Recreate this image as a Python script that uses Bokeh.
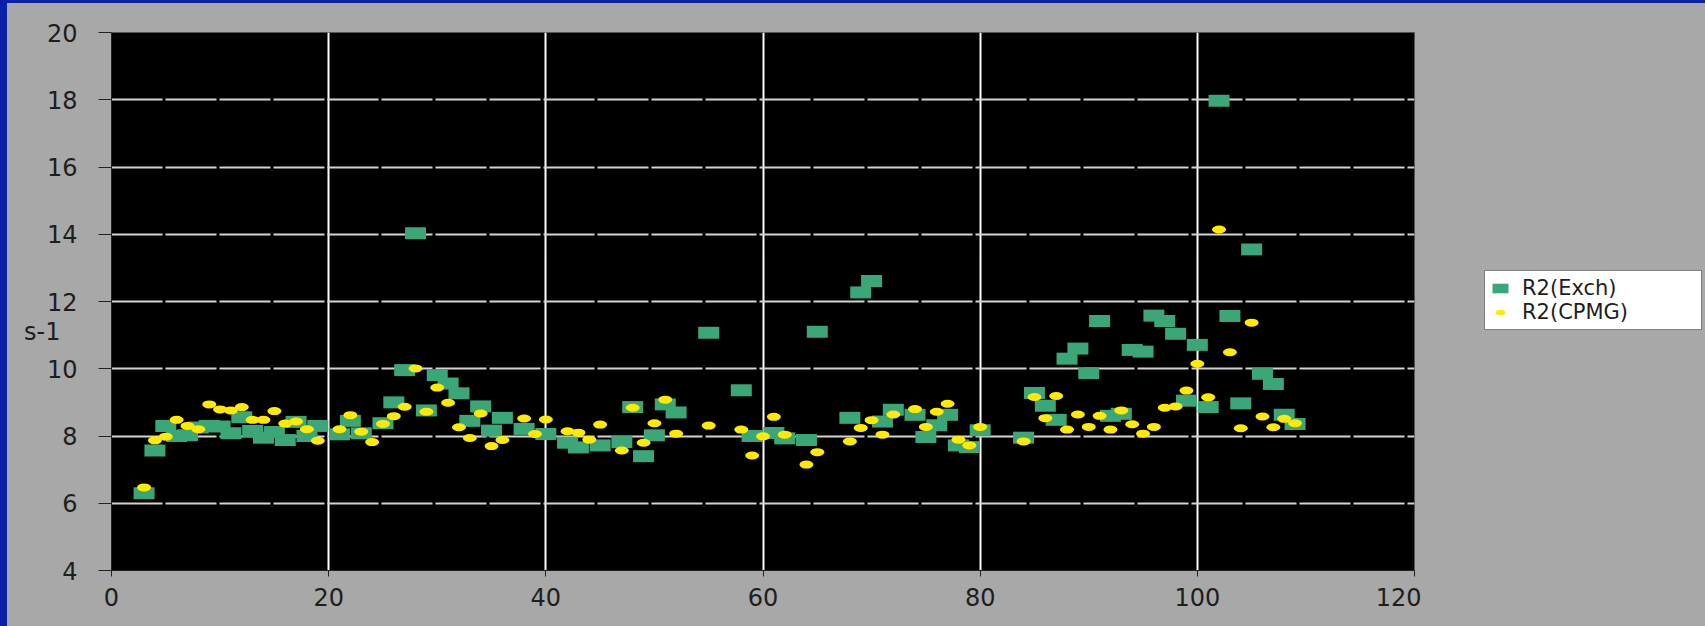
from bokeh.plotting import figure
from bokeh.models import Range1d, FixedTicker, Legend, LegendItem, LinearAxis, Spacer
from bokeh.layouts import row, column
from bokeh.embed import file_html
from bokeh.resources import INLINE

# ---- data ----
exch_x = [3, 4, 5, 6, 7, 8, 9, 10, 11, 12, 13, 14, 15, 16, 17, 18, 19, 21, 22, 23,
          25, 26, 27, 28, 29, 30, 31, 32, 33, 34, 35, 36, 38, 40, 42, 43, 45, 47, 48, 49,
          50, 51, 52, 55, 58, 59, 61, 62, 64, 65, 68, 69, 70, 71, 72, 74, 75, 76, 77, 78,
          79, 80, 84, 85, 86, 87, 88, 89, 90, 91, 92, 93, 94, 95, 96, 97, 98, 99, 100, 101,
          102, 103, 104, 105, 106, 107, 108, 109]
exch_y = [6.30, 7.57, 8.30, 8.00, 8.02, 8.25, 8.30, 8.28, 8.08, 8.56, 8.15, 7.95, 8.12, 7.88, 8.42, 8.00, 8.30, 8.05, 8.45, 8.08,
          8.38, 9.00, 9.96, 14.03, 8.76, 9.81, 9.56, 9.27, 8.45, 8.88, 8.16, 8.54, 8.21, 8.06, 7.80, 7.66, 7.72, 7.82, 8.86, 7.40,
          8.02, 8.94, 8.70, 11.07, 9.36, 8.00, 8.09, 7.93, 7.88, 11.10, 8.54, 12.27, 12.61, 8.43, 8.78, 8.63, 7.97, 8.32, 8.63, 7.72,
          7.67, 8.17, 7.95, 9.28, 8.90, 8.48, 10.30, 10.60, 9.87, 11.42, 8.60, 8.66, 10.56, 10.51, 11.58, 11.42, 11.04, 9.05, 10.71, 8.86,
          17.97, 11.57, 8.97, 13.55, 9.85, 9.55, 8.63, 8.36]

cpmg_x = [3, 4, 5, 6, 7, 8, 9, 10, 11, 12, 13, 14, 15, 16, 17, 18, 19, 21, 22, 23,
          24, 25, 26, 27, 28, 29, 30, 31, 32, 33, 34, 35, 36, 38, 39, 40, 42, 43, 44, 45,
          47, 48, 49, 50, 51, 52, 55, 58, 59, 60, 61, 62, 64, 65, 68, 69, 70, 71, 72, 74,
          75, 76, 77, 78, 79, 80, 84, 85, 86, 87, 88, 89, 90, 91, 92, 93, 94, 95, 96, 97,
          98, 99, 100, 101, 102, 103, 104, 105, 106, 107, 108, 109]
cpmg_y = [6.47, 7.87, 7.98, 8.48, 8.30, 8.20, 8.94, 8.79, 8.76, 8.86, 8.48, 8.48, 8.74, 8.37, 8.43, 8.20, 7.86, 8.20, 8.62, 8.13,
          7.82, 8.36, 8.59, 8.87, 10.01, 8.72, 9.44, 8.99, 8.26, 7.94, 8.67, 7.70, 7.88, 8.52, 8.06, 8.49, 8.14, 8.10, 7.89, 8.34,
          7.57, 8.84, 7.80, 8.38, 9.08, 8.07, 8.31, 8.19, 7.42, 7.99, 8.57, 8.04, 7.15, 7.52, 7.84, 8.24, 8.47, 8.04, 8.64, 8.80,
          8.27, 8.72, 8.96, 7.89, 7.72, 8.27, 7.84, 9.16, 8.53, 9.19, 8.19, 8.64, 8.27, 8.60, 8.19, 8.76, 8.35, 8.07, 8.27, 8.84,
          8.88, 9.35, 10.15, 9.15, 14.14, 10.49, 8.23, 11.37, 8.58, 8.26, 8.51, 8.38]

x_ticks = [0, 20, 40, 60, 80, 100, 120]
y_ticks = [4, 6, 8, 10, 12, 14, 16, 18, 20]
series_names = ["R2(Exch)", "R2(CPMG)"]
y_unit_label = "s-1"
y_unit_pos = 11.1

GREEN = "#3BA677"
YELLOW = "#FFEA00"
GRAY = "#A8A8A8"
BLUE = "#0B1FA8"
FONT = "DejaVu Sans"
TEXT = "#1e1e1e"

MAIN_W = 1414
LEG_W = 1698 - MAIN_W
H = 623

p = figure(width=MAIN_W, height=H, output_backend="svg", toolbar_location=None,
           title=None, x_range=Range1d(0, 120), y_range=Range1d(4, 20))
p.min_border_left = 104
p.min_border_right = 7
p.min_border_top = 29
p.min_border_bottom = 56
p.background_fill_color = "black"
p.border_fill_color = GRAY
p.outline_line_color = "#555555"
p.outline_line_width = 1
p.styles = {"background-color": GRAY}

# axes
p.xaxis.ticker = FixedTicker(ticks=x_ticks)
p.yaxis.ticker = FixedTicker(ticks=y_ticks)
for ax in (p.xaxis[0], p.yaxis[0]):
    ax.minor_tick_line_color = None
    ax.major_tick_in = 0
    ax.axis_line_color = "#222222"
    ax.major_tick_line_color = "#222222"
    ax.major_label_text_font = FONT
    ax.major_label_text_font_size = "24px"
    ax.major_label_text_color = TEXT
p.yaxis.major_tick_out = 13
p.yaxis.major_label_standoff = 21
p.xaxis.major_tick_out = 6
p.xaxis.major_label_standoff = 11

# unit text "s-1" drawn as a tick label of a second, bare left axis
unit_axis = LinearAxis(ticker=FixedTicker(ticks=[y_unit_pos]),
                       major_label_overrides={y_unit_pos: y_unit_label})
unit_axis.axis_line_color = None
unit_axis.major_tick_line_color = None
unit_axis.minor_tick_line_color = None
unit_axis.major_tick_out = 0
unit_axis.major_tick_in = 0
unit_axis.major_label_standoff = -17
unit_axis.major_label_text_font = FONT
unit_axis.major_label_text_font_size = "24px"
unit_axis.major_label_text_color = TEXT
p.add_layout(unit_axis, "left")

# grid
p.xgrid.grid_line_color = "white"
p.xgrid.grid_line_width = 2
p.ygrid.grid_line_color = "#D4D4D4"
p.ygrid.grid_line_width = 2
p.ygrid.grid_line_dash = "51 3"

p.rect(exch_x, exch_y, width=21, height=12, width_units="screen",
       height_units="screen", fill_color=GREEN, line_color=None)
p.ellipse(cpmg_x, cpmg_y, width=14, height=8, width_units="screen",
          height_units="screen", fill_color=YELLOW, line_color=None)

# legend lives in a narrow companion figure to the right of the chart;
# its own copies of the series fall outside its (0..1) ranges and stay hidden
lf = figure(width=LEG_W, height=H, output_backend="svg", toolbar_location=None,
            title=None, x_range=Range1d(0, 1), y_range=Range1d(0, 1),
            x_axis_type=None, y_axis_type=None, min_border=0)
lf.background_fill_color = GRAY
lf.border_fill_color = GRAY
lf.outline_line_color = None
lf.grid.visible = False
lf.styles = {"background-color": GRAY}
lg_exch = lf.rect(exch_x, exch_y, width=21, height=12, width_units="screen",
                  height_units="screen", fill_color=GREEN, line_color=None)
lg_cpmg = lf.ellipse(cpmg_x, cpmg_y, width=14, height=8, width_units="screen",
                     height_units="screen", fill_color=YELLOW, line_color=None)

legend = Legend(items=[LegendItem(label=series_names[0], renderers=[lg_exch]),
                       LegendItem(label=series_names[1], renderers=[lg_cpmg])],
                location=(63, 240))
legend.label_text_font = FONT
legend.label_text_font_size = "21px"
legend.label_text_color = TEXT
legend.glyph_width = 20
legend.glyph_height = 12
legend.label_height = 22
legend.label_width = 174
legend.label_standoff = 12
legend.spacing = 0
legend.padding = 5
legend.margin = 0
legend.border_line_color = "black"
legend.border_line_width = 1.5
legend.background_fill_color = "white"
legend.background_fill_alpha = 1
lf.add_layout(legend)

left_strip = Spacer(width=7, height=626, styles={"background-color": BLUE})
top_strip = Spacer(width=1698, height=3, styles={"background-color": BLUE})
page = row(left_strip, column(top_strip, row(p, lf, spacing=0), spacing=0), spacing=0)

html = file_html(page, INLINE)
html = html.replace("<body>", '<body style="margin:0;overflow:hidden;background:%s;">' % GRAY, 1)
open("out.html", "w").write(html)
